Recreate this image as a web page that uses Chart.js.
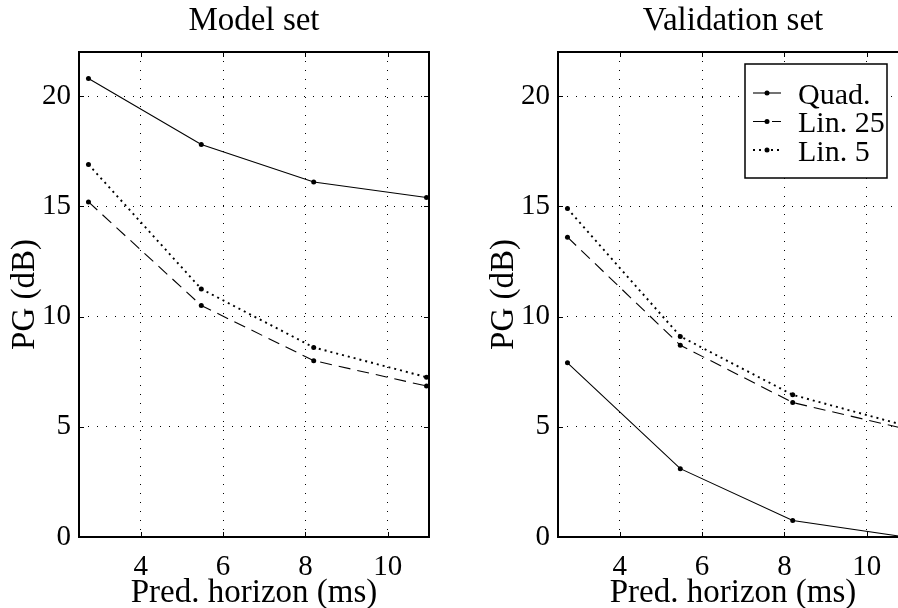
<!DOCTYPE html>
<html>
<head>
<meta charset="utf-8">
<script src="https://cdn.jsdelivr.net/npm/chart.js@4"></script>
<style>
  html, body { margin: 0; padding: 0; background: #fff; overflow: hidden; }
  body { width: 898px; height: 608px; position: relative; }
  canvas { position: absolute; top: 0; }
  #modelChart { left: 0; }
  #validChart { left: 479px; }
</style>
</head>
<body>
<canvas id="modelChart" width="449" height="608"></canvas>
<canvas id="validChart" width="449" height="608"></canvas>
<script>
// prediction horizons (ms) and prediction gain (dB) per predictor
const horizons = [2.73, 5.47, 8.2, 10.94];
const seriesNames = ['Quad.', 'Lin. 25', 'Lin. 5'];

const modelQuad = [20.8, 17.8, 16.1, 15.4];
const modelLin25 = [15.2, 10.5, 8.0, 6.85];
const modelLin5 = [16.9, 11.25, 8.6, 7.25];

const validQuad = [7.9, 3.1, 0.75, 0.0];
const validLin25 = [13.6, 8.7, 6.1, 4.9];
const validLin5 = [14.9, 9.1, 6.45, 5.05];

const xTicks = [4, 6, 8, 10];
const yTicks = [0, 5, 10, 15, 20];

const SERIF = '"Liberation Serif", "Times New Roman", serif';

// solid, dashed, dotted
const lineStyles = [
  { dash: [], width: 1.1 },
  { dash: [12, 7], width: 1.1 },
  { dash: [2, 4], width: 1.9 }
];

// box around the axes with inward tick marks on all four sides
const axesFrame = {
  id: 'axesFrame',
  afterDatasetsDraw(chart) {
    const { ctx, chartArea: a, scales: { x, y } } = chart;
    ctx.save();
    ctx.strokeStyle = '#000';
    ctx.lineWidth = 1;
    ctx.beginPath();
    xTicks.forEach(v => {
      const px = Math.round(x.getPixelForValue(v)) + 0.5;
      ctx.moveTo(px, a.bottom); ctx.lineTo(px, a.bottom - 5);
      ctx.moveTo(px, a.top); ctx.lineTo(px, a.top + 5);
    });
    yTicks.forEach(v => {
      const py = Math.round(y.getPixelForValue(v)) + 0.5;
      ctx.moveTo(a.left, py); ctx.lineTo(a.left + 5, py);
      ctx.moveTo(a.right, py); ctx.lineTo(a.right - 5, py);
    });
    ctx.stroke();
    ctx.lineWidth = 2;
    ctx.strokeRect(a.left, a.top, a.right - a.left, a.bottom - a.top);
    ctx.restore();
  }
};

// framed legend drawn inside the top-right corner of the axes
const boxedLegend = {
  id: 'boxedLegend',
  afterDraw(chart, args, opts) {
    if (!opts.display) return;
    const { ctx, chartArea: a } = chart;
    const w = 142, h = 114;
    const bx = a.right - 21 - w;
    const by = a.top + 12;
    ctx.save();
    ctx.fillStyle = '#fff';
    ctx.fillRect(bx, by, w, h);
    ctx.strokeStyle = '#000';
    ctx.lineWidth = 1.5;
    ctx.strokeRect(bx, by, w, h);
    chart.data.datasets.forEach((ds, i) => {
      const ry = by + 29 + i * 28.5;
      ctx.beginPath();
      ctx.setLineDash(ds.borderDash);
      ctx.lineWidth = ds.borderWidth;
      ctx.moveTo(bx + 8, ry);
      ctx.lineTo(bx + 36, ry);
      ctx.stroke();
      ctx.setLineDash([]);
      ctx.beginPath();
      ctx.arc(bx + 22, ry, 2.5, 0, Math.PI * 2);
      ctx.fillStyle = '#000';
      ctx.fill();
      ctx.font = '30px ' + SERIF;
      ctx.textBaseline = 'middle';
      ctx.textAlign = 'left';
      ctx.fillText(ds.label, bx + 53, ry + 3);
    });
    ctx.restore();
  }
};

function makeChart(canvasId, title, seriesValues, showLegend) {
  const datasets = seriesValues.map((vals, i) => ({
    label: seriesNames[i],
    data: horizons.map((h, k) => ({ x: h, y: vals[k] })),
    borderColor: '#000',
    borderWidth: lineStyles[i].width,
    borderDash: lineStyles[i].dash,
    pointRadius: 2.5,
    pointHoverRadius: 2.5,
    pointBorderWidth: 0,
    pointBackgroundColor: '#000',
    fill: false,
    tension: 0
  }));

  return new Chart(document.getElementById(canvasId), {
    type: 'line',
    data: { datasets },
    options: {
      responsive: false,
      animation: false,
      events: [],
      layout: { padding: { left: 0, right: 20, top: 0, bottom: 0 } },
      scales: {
        x: {
          type: 'linear',
          min: 2.5,
          max: 11,
          afterBuildTicks: s => { s.ticks = xTicks.map(v => ({ value: v })); },
          afterFit: s => { s.height = 71; },
          grid: { color: '#000', lineWidth: 1, drawTicks: false },
          border: { display: false, dash: [1, 8] },
          ticks: { color: '#000', padding: 13, maxRotation: 0, font: { family: SERIF, size: 29 } },
          title: {
            display: true,
            text: 'Pred. horizon (ms)',
            color: '#000',
            padding: { top: 0, bottom: -2 },
            font: { family: SERIF, size: 33, lineHeight: 1 }
          }
        },
        y: {
          type: 'linear',
          min: 0,
          max: 22,
          afterBuildTicks: s => { s.ticks = yTicks.map(v => ({ value: v })); },
          afterFit: s => { s.width = 79; },
          grid: { color: '#000', lineWidth: 1, drawTicks: false },
          border: { display: false, dash: [1, 8] },
          ticks: { color: '#000', padding: 8, font: { family: SERIF, size: 29 } },
          title: {
            display: true,
            text: 'PG (dB)',
            color: '#000',
            padding: { top: 9, bottom: 0 },
            font: { family: SERIF, size: 33, lineHeight: 1 }
          }
        }
      },
      plugins: {
        legend: { display: false },
        tooltip: { enabled: false },
        title: {
          display: true,
          text: title,
          fullSize: false,
          color: '#000',
          padding: { top: 5, bottom: 14 },
          font: { family: SERIF, size: 33, weight: 'normal', lineHeight: 1 }
        },
        boxedLegend: { display: showLegend }
      }
    },
    plugins: [axesFrame, boxedLegend]
  });
}

makeChart('modelChart', 'Model set', [modelQuad, modelLin25, modelLin5], false);
makeChart('validChart', 'Validation set', [validQuad, validLin25, validLin5], true);
</script>
</body>
</html>
